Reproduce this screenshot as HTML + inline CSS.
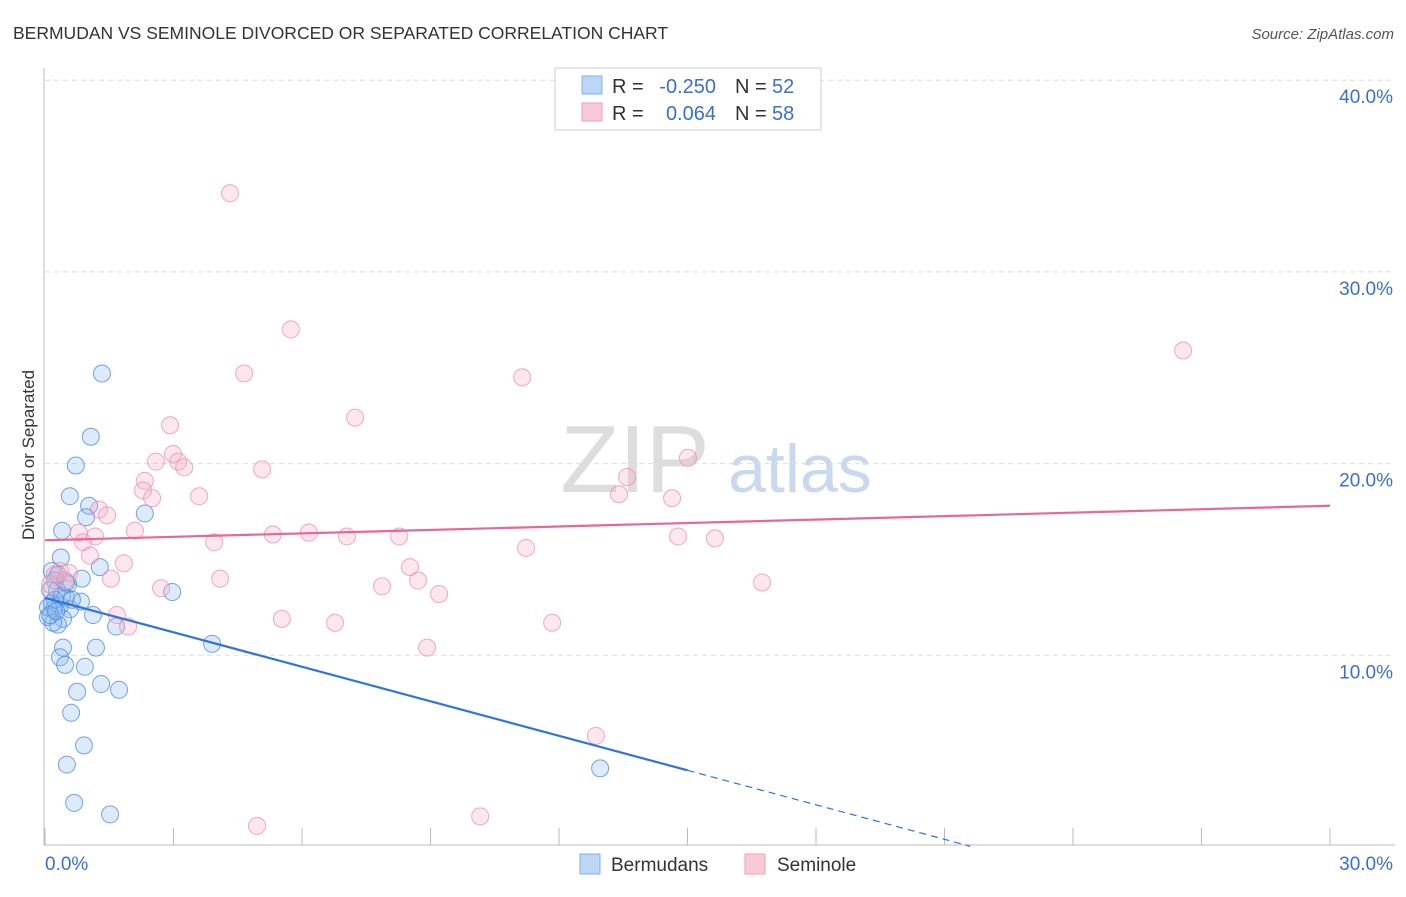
<!DOCTYPE html>
<html><head><meta charset="utf-8"><style>
body{margin:0;background:#fff;font-family:"Liberation Sans",sans-serif}
svg text{font-family:"Liberation Sans",sans-serif}
</style></head><body>
<svg id="c" width="1406" height="892">
<text x="13" y="39" font-size="17.5" fill="#333">BERMUDAN VS SEMINOLE DIVORCED OR SEPARATED CORRELATION CHART</text>
<text x="1394" y="39" font-size="15" fill="#555" font-style="italic" text-anchor="end">Source: ZipAtlas.com</text>
<text x="635" y="492" font-size="96" fill="#ddd" text-anchor="middle" font-family="Liberation Serif">ZIP</text>
<text x="800" y="492" font-size="68" fill="#c8d8ee" text-anchor="middle">atlas</text>
<text transform="translate(34,455) rotate(-90)" font-size="17" fill="#333" text-anchor="middle">Divorced or Separated</text>
<g id="grid"></g><g id="pts"></g><g id="trend"></g>
<g>
<rect x="555" y="68" width="266" height="62" fill="#fff" stroke="#ccc"/>
<rect x="582" y="76" width="20" height="18" fill="#bcd6f5" stroke="#7fb0ea"/>
<rect x="582" y="103" width="20" height="18" fill="#f9c9d8" stroke="#f0a0ba"/>
<text x="612" y="93" font-size="20" fill="#333">R =</text>
<text x="716" y="93" font-size="20" fill="#3a6fd0" text-anchor="end">-0.250</text>
<text x="735" y="93" font-size="20" fill="#333">N =</text>
<text x="772" y="93" font-size="20" fill="#3a6fd0">52</text>
<text x="612" y="120" font-size="20" fill="#333">R =</text>
<text x="716" y="120" font-size="20" fill="#3a6fd0" text-anchor="end">0.064</text>
<text x="735" y="120" font-size="20" fill="#333">N =</text>
<text x="772" y="120" font-size="20" fill="#3a6fd0">58</text>
</g>
<g>
<rect x="580" y="854" width="20" height="20" fill="#bcd6f5" stroke="#7fb0ea"/>
<text x="611" y="871" font-size="19" fill="#333">Bermudans</text>
<rect x="745" y="854" width="20" height="20" fill="#f9c9d8" stroke="#f0a0ba"/>
<text x="777" y="871" font-size="19" fill="#333">Seminole</text>
</g>
</svg>
<script>
const yTicks=[10,20,30,40];
const yTickLabels=["10.0%","20.0%","30.0%","40.0%"];
const xTicks=[0,3,6,9,12,15,18,21,24,27,30];
const bermX=[1.33,1.07,0.72,0.58,1.03,0.96,2.33,0.40,0.37,1.28,0.16,0.86,0.23,0.54,0.28,0.49,0.84,0.16,0.35,0.21,0.58,0.07,0.42,0.30,1.12,1.66,2.97,3.90,1.19,0.42,0.35,0.47,0.93,1.31,0.75,1.73,0.61,0.91,0.51,0.68,1.52,12.96,0.12,0.23,0.07,0.40,0.19,0.30,0.49,0.63,0.12,0.26];
const bermY=[24.7,21.4,19.9,18.3,17.8,17.2,17.4,16.5,15.1,14.6,14.4,14.0,13.9,13.7,13.4,13.0,12.8,12.7,12.6,12.4,12.4,12.0,11.9,11.6,12.1,11.5,13.3,10.6,10.4,10.4,9.9,9.5,9.4,8.5,8.1,8.2,7.0,5.3,4.3,2.3,1.7,4.1,13.4,12.9,12.5,13.1,11.7,14.2,13.8,12.9,12.1,12.3];
const semX=[4.32,5.74,26.57,4.65,11.14,7.24,2.92,2.99,2.59,3.11,3.25,5.07,15.01,13.59,2.33,2.29,2.50,3.60,13.40,14.64,1.26,1.45,2.10,0.79,5.32,6.16,7.05,8.27,3.95,11.23,14.78,15.64,1.17,0.89,1.05,1.84,0.35,0.56,8.52,1.54,4.09,7.87,8.71,16.74,2.71,9.20,5.53,6.77,11.84,1.68,1.94,8.92,12.86,4.95,10.16,0.23,0.47,0.12];
const semY=[34.1,27.0,25.9,24.7,24.5,22.4,22.0,20.5,20.1,20.1,19.8,19.7,20.3,19.3,19.1,18.6,18.2,18.3,18.4,18.2,17.6,17.3,16.5,16.4,16.3,16.4,16.2,16.2,15.9,15.6,16.2,16.1,16.2,15.9,15.2,14.8,14.4,14.3,14.6,14.0,14.0,13.6,13.9,13.8,13.5,13.2,11.9,11.7,11.7,12.1,11.5,10.4,5.8,1.1,1.6,14.2,13.9,13.7];
const bermTrend=[13.0,-0.6];
const semTrend=[16.0,0.06];
const X=v=>45+v*(1285/30), Y=v=>847-v*19.17;
const NS="http://www.w3.org/2000/svg";
function mk(p,t,a){const e=document.createElementNS(NS,t);for(const k in a)e.setAttribute(k,a[k]);p.appendChild(e);return e;}
const g=document.getElementById('grid');
yTicks.forEach((v,i)=>{
 const l=mk(g,'line',{x1:45,x2:1395,y1:Y(v),y2:Y(v),stroke:'#ddd','stroke-dasharray':'5,4'});
 
 
 const t=mk(g,'text',{x:1393,y:Y(v)+23,'font-size':19,fill:'#3a6fd0','text-anchor':'end'});t.textContent=yTickLabels[i];
 
 
});
mk(g,'line',{x1:44,x2:44,y1:68,y2:845,stroke:'#bbb'});
mk(g,'line',{x1:44,x2:1395,y1:845,y2:845,stroke:'#bbb'});
xTicks.forEach(v=>{const l=mk(g,'line',{x1:X(v),x2:X(v),y1:828,y2:845,stroke:'#bbb'});
 
 });
const t0=mk(g,'text',{x:45,y:870,'font-size':19,fill:'#3a6fd0'});t0.textContent='0.0%';


const t1=mk(g,'text',{x:1393,y:870,'font-size':19,fill:'#3a6fd0','text-anchor':'end'});t1.textContent='30.0%';


const P=document.getElementById('pts');
bermX.forEach((x,i)=>{const c=mk(P,'circle',{cx:X(x),cy:Y(bermY[i]),r:8.5,fill:'rgba(140,185,238,0.3)',stroke:'rgba(70,135,220,0.75)','stroke-width':1});
 
 });
semX.forEach((x,i)=>{const c=mk(P,'circle',{cx:X(x),cy:Y(semY[i]),r:8.5,fill:'rgba(245,175,200,0.3)',stroke:'rgba(235,140,175,0.75)','stroke-width':1});
 
 });
const T=document.getElementById('trend');
const bf=x=>bermTrend[0]+bermTrend[1]*x, sf=x=>semTrend[0]+semTrend[1]*x;
const b1=mk(T,'line',{x1:X(0),y1:Y(bf(0)),x2:X(15),y2:Y(bf(15)),stroke:'#2f74d8','stroke-width':2.2});


const b2=mk(T,'line',{x1:X(15),y1:Y(bf(15)),x2:X(21.6),y2:Y(bf(21.6)),stroke:'#2f74d8','stroke-width':1.2,'stroke-dasharray':'7,5'});


const s1=mk(T,'line',{x1:X(0),y1:Y(sf(0)),x2:X(30),y2:Y(sf(30)),stroke:'#e8688f','stroke-width':2.2});


</script>
</body></html>
